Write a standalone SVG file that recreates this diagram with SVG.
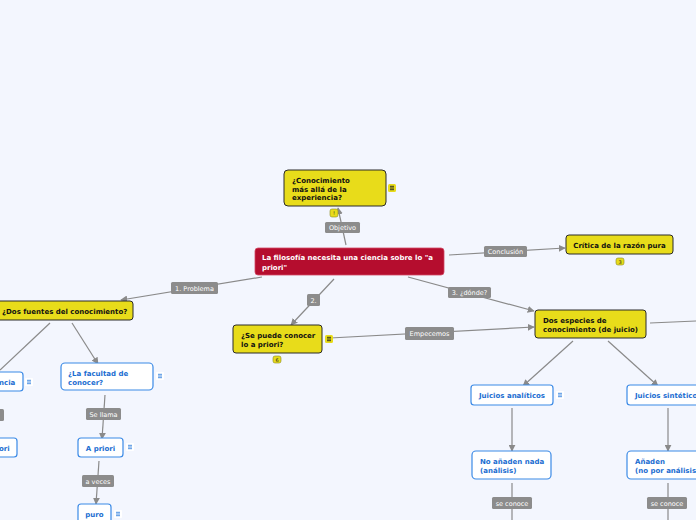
<svg xmlns="http://www.w3.org/2000/svg" width="696" height="520" viewBox="0 0 696 520">
<defs>
<marker id="ah" viewBox="0 0 10 10" refX="9" refY="5" markerWidth="7" markerHeight="7" orient="auto" markerUnits="userSpaceOnUse"><path d="M0,0 L10,5 L0,10 z" fill="#8a8a8a"/></marker>
<g id="menuY"><rect x="0" y="0" width="8" height="8" rx="1.5" fill="#e8dc1a"/><path d="M2,2.3h4M2,4h4M2,5.7h4" stroke="#222" stroke-width="0.9"/></g>
<g id="menuB"><rect x="0" y="0" width="8" height="8" rx="1" fill="#fff"/><path d="M2,2.3h4M2,4h4M2,5.7h4" stroke="#3b86e0" stroke-width="0.9"/></g>
</defs>
<style>
text{font-family:"DejaVu Sans",Verdana,sans-serif}
.c{stroke:#8a8a8a;stroke-width:1.2;fill:none}
.lb{fill:#8c8c8c}
.lt{fill:#fff;font-size:6.5px}
.y{fill:#e8dc1a;stroke:#2a2a2a;stroke-width:1}
.yt{fill:#111;font-size:7px;font-weight:bold}
.b{fill:#fff;stroke:#3b8ae6;stroke-width:1.2}
.bt{fill:#1b6dd1;font-size:7px;font-weight:bold}
.badge{fill:#e8dc1a;stroke:#8a8a20;stroke-width:0.6}
.bdt{fill:#222;font-size:5px;text-anchor:middle}
</style>
<rect width="696" height="520" fill="#f3f6fe"/>
<g id="connectors">
<path class="c" d="M346,245 L338,208" marker-end="url(#ah)"/>
<path class="c" d="M449,255 L565,248" marker-end="url(#ah)"/>
<path class="c" d="M408,277 L534,311" marker-end="url(#ah)"/>
<path class="c" d="M650,323 L696,321"/>
<path class="c" d="M334,279 L291,325" marker-end="url(#ah)"/>
<path class="c" d="M330,338 L534,327" marker-end="url(#ah)"/>
<path class="c" d="M262,277 L121,300" marker-end="url(#ah)"/>
<path class="c" d="M50,323 L0,370"/>
<path class="c" d="M72,323 L98,364" marker-end="url(#ah)"/>
<path class="c" d="M105,395 L102,439" marker-end="url(#ah)"/>
<path class="c" d="M99,461 L96,504" marker-end="url(#ah)"/>
<path class="c" d="M573,341 L523,386" marker-end="url(#ah)"/>
<path class="c" d="M608,341 L658,386" marker-end="url(#ah)"/>
<path class="c" d="M512,408 L512,451" marker-end="url(#ah)"/>
<path class="c" d="M512,483 L512,520"/>
<path class="c" d="M668,408 L668,451" marker-end="url(#ah)"/>
<path class="c" d="M668,483 L668,520"/>
<rect class="lb" x="325" y="222" width="35" height="11" rx="1.5"/><text class="lt" x="342.5" y="230" text-anchor="middle">Objetivo</text>
<rect class="lb" x="484" y="246" width="43" height="11" rx="1.5"/><text class="lt" x="505.5" y="254" text-anchor="middle">Conclusión</text>
<rect class="lb" x="448" y="287" width="43" height="11" rx="1.5"/><text class="lt" x="469.5" y="295" text-anchor="middle">3. ¿dónde?</text>
<rect class="lb" x="307" y="294" width="13" height="12" rx="1.5"/><text class="lt" x="313.5" y="302.5" text-anchor="middle">2.</text>
<rect class="lb" x="405" y="327" width="49" height="13" rx="1.5"/><text class="lt" x="429.5" y="336" text-anchor="middle">Empecemos</text>
<rect class="lb" x="171" y="282" width="47" height="12" rx="1.5"/><text class="lt" x="194.5" y="290.5" text-anchor="middle">1. Problema</text>
<rect class="lb" x="-4" y="409" width="8" height="12" rx="1.5"/>
<rect class="lb" x="86" y="408" width="35" height="12" rx="1.5"/><text class="lt" x="103.5" y="416.5" text-anchor="middle">Se llama</text>
<rect class="lb" x="82" y="475" width="32" height="12" rx="1.5"/><text class="lt" x="98" y="483.5" text-anchor="middle">a veces</text>
<rect class="lb" x="492" y="497" width="40" height="12" rx="1.5"/><text class="lt" x="512" y="505.5" text-anchor="middle">se conoce</text>
<rect class="lb" x="647" y="497" width="40" height="12" rx="1.5"/><text class="lt" x="667" y="505.5" text-anchor="middle">se conoce</text>
</g>
<g id="n-central">
<rect x="255" y="248" width="189" height="27" rx="3" fill="#b50d2e" stroke="#d24a64" stroke-width="0.8"/>
<text x="262" y="260" fill="#fff" font-size="7px" font-weight="bold">La filosofía necesita una ciencia sobre lo "a</text>
<text x="262" y="270" fill="#fff" font-size="7px" font-weight="bold">priori"</text>
</g>
<g id="n-conocimiento">
<rect class="y" x="284" y="170" width="102" height="36" rx="4"/>
<text class="yt" x="292" y="183">¿Conocimiento</text>
<text class="yt" x="292" y="191.5">más allá de la</text>
<text class="yt" x="292" y="200">experiencia?</text>
<use href="#menuY" x="388" y="184"/>
<rect class="badge" x="330" y="209" width="8" height="8" rx="2"/><text class="bdt" x="334" y="215">!</text>
</g>
<g id="n-critica">
<rect class="y" x="566" y="235" width="107" height="19" rx="3"/>
<text class="yt" x="619.5" y="247.5" text-anchor="middle">Crítica de la razón pura</text>
<rect class="badge" x="616" y="258" width="8" height="7" rx="2"/><text class="bdt" x="620" y="263.5">3</text>
</g>
<g id="n-dosespecies">
<rect class="y" x="535" y="310" width="111" height="28" rx="3"/>
<text class="yt" x="543" y="323">Dos especies de</text>
<text class="yt" x="543" y="332">conocimiento (de juicio)</text>
</g>
<g id="n-sepuede">
<rect class="y" x="233" y="325" width="89" height="28" rx="3"/>
<text class="yt" x="241" y="338">¿Se puede conocer</text>
<text class="yt" x="241" y="347">lo a priori?</text>
<use href="#menuY" x="325" y="335"/>
<rect class="badge" x="273" y="356" width="8" height="7" rx="2"/><text class="bdt" x="277" y="361.5">6</text>
</g>
<g id="n-dosfuentes">
<rect class="y" x="-10" y="301" width="143" height="19" rx="3"/>
<text class="yt" x="2" y="313.5">¿Dos fuentes del conocimiento?</text>
</g>
<g id="n-experiencia">
<rect class="b" x="-30" y="372" width="53" height="19" rx="3"/>
<text class="bt" x="-1" y="384.5">ncia</text>
<use href="#menuB" x="25" y="378"/>
</g>
<g id="n-aposteriori">
<rect class="b" x="-30" y="438" width="47" height="19" rx="3"/>
<text class="bt" x="-1" y="450.5">ori</text>
</g>
<g id="n-facultad">
<rect class="b" x="61" y="363" width="92" height="27" rx="4"/>
<text class="bt" x="68" y="376">¿La facultad de</text>
<text class="bt" x="68" y="385">conocer?</text>
<use href="#menuB" x="156" y="372"/>
</g>
<g id="n-apriori">
<rect class="b" x="78" y="438" width="45" height="19" rx="3"/>
<text class="bt" x="100.5" y="450.5" text-anchor="middle">A priori</text>
<use href="#menuB" x="126" y="443"/>
</g>
<g id="n-puro">
<rect class="b" x="78" y="504" width="33" height="22" rx="3"/>
<text class="bt" x="94.5" y="517" text-anchor="middle">puro</text>
<use href="#menuB" x="114" y="510"/>
</g>
<g id="n-analiticos">
<rect class="b" x="471" y="385" width="82" height="20" rx="3"/>
<text class="bt" x="512" y="397.5" text-anchor="middle">Juicios analíticos</text>
<use href="#menuB" x="556" y="391"/>
</g>
<g id="n-sinteticos">
<rect class="b" x="627" y="385" width="82" height="20" rx="3"/>
<text class="bt" x="635" y="397.5">Juicios sintéticos</text>
</g>
<g id="n-noanaden">
<rect class="b" x="472" y="451" width="79" height="28" rx="4"/>
<text class="bt" x="480" y="464">No añaden nada</text>
<text class="bt" x="480" y="473">(análisis)</text>
</g>
<g id="n-anaden">
<rect class="b" x="627" y="451" width="82" height="28" rx="4"/>
<text class="bt" x="635" y="464">Añaden</text>
<text class="bt" x="635" y="473">(no por análisis)</text>
</g>
</svg>
